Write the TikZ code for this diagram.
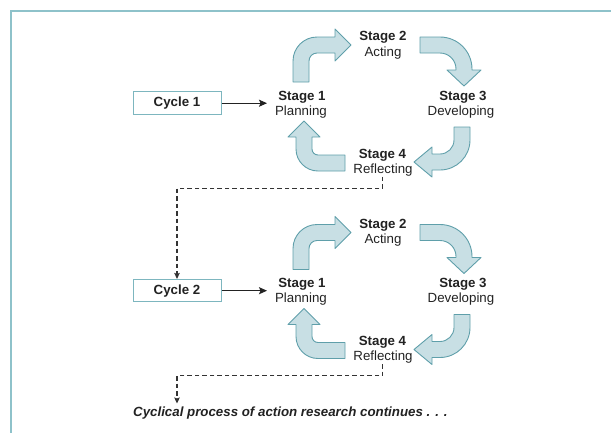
\documentclass[tikz,border=0pt]{standalone}
\usepackage{fontspec}
\setmainfont{Liberation Sans}
\usetikzlibrary{arrows.meta}
\definecolor{framecol}{HTML}{8EC2CA}
\definecolor{boxline}{HTML}{7DB6BF}
\definecolor{blockfill}{HTML}{C8DFE4}
\definecolor{blockline}{HTML}{5F9FAA}
\definecolor{ink}{HTML}{222222}
\definecolor{dashink}{HTML}{333333}
\tikzset{
  cyclebox/.style={draw=boxline, line width=1pt, fill=white, minimum width=88pt,
    minimum height=22.5pt, inner sep=0pt, text height=9.6pt, text depth=2.4pt,
    font=\fontsize{13.3}{16}\selectfont\bfseries, text=ink},
  stagehead/.style={anchor=base, inner sep=0pt, font=\fontsize{13.3}{16}\selectfont\bfseries, text=ink},
  stagename/.style={anchor=base, inner sep=0pt, font=\fontsize{13.3}{16}\selectfont, text=ink},
  block/.style={fill=blockfill, draw=blockline, line width=0.9pt, line join=round},
  solidcon/.style={draw=ink, line width=1pt, -{Stealth[length=8pt,width=7pt,inset=1.5pt]}},
  dashcon/.style={draw=dashink, line width=1.1pt, dash pattern=on 4.5pt off 3pt,
    -{Stealth[length=6pt,width=5.5pt,inset=1pt]}},
  pics/cycle/.style={code={
    % block arrows
    \draw[block] (293,-82) -- (293,-61) arc[start angle=180,end angle=90,radius=24pt]
      -- (335,-37) -- (335,-29) -- (351,-45) -- (335,-61) -- (335,-53) -- (317,-53)
      arc[start angle=90,end angle=180,radius=8pt] -- (309,-82) -- cycle;
    \draw[block] (420,-37) -- (440,-37) arc[start angle=90,end angle=0,radius=32pt]
      -- (472,-70) -- (481,-70) -- (464,-86) -- (447,-70) -- (456,-70) -- (456,-69)
      arc[start angle=0,end angle=90,radius=16pt] -- (420,-53) -- cycle;
    \draw[block] (454,-127) -- (470,-127) -- (470,-140) arc[start angle=0,end angle=-90,radius=30pt]
      -- (432,-170) -- (432,-177) -- (414,-162) -- (432,-147) -- (432,-154) -- (440,-154)
      arc[start angle=-90,end angle=0,radius=14pt] -- cycle;
    \draw[block] (345,-155) -- (345,-171) -- (318,-171) arc[start angle=270,end angle=180,radius=22pt]
      -- (296,-137) -- (288,-137) -- (304,-121) -- (320,-137) -- (312,-137) -- (312,-149)
      arc[start angle=180,end angle=270,radius=6pt] -- cycle;
    % stage labels
    \node[stagehead] (-s1h) at (302,-100) {Stage 1};
    \node[stagename] (-s1n) at (301,-115) {Planning};
    \node[stagehead] (-s2h) at (383,-40.7) {Stage 2};
    \node[stagename] (-s2n) at (383,-56) {Acting};
    \node[stagehead] (-s3h) at (463,-100) {Stage 3};
    \node[stagename] (-s3n) at (461,-115) {Developing};
    \node[stagehead] (-s4h) at (382.5,-158.3) {Stage 4};
    \node[stagename] (-s4n) at (383,-173.3) {Reflecting};
    % cycle box
    \node[cyclebox] (-box) at (177,-103.2) {Cycle #1};
    \coordinate (-in) at (267,-103.2);
    \draw[solidcon] (-box.east) -- (-in);
    \coordinate (-dash) at (382.5,-176.5);
  }}
}
\begin{document}
\begin{tikzpicture}[x=1pt,y=1pt]
\useasboundingbox (0,0) rectangle (611,-432);
\draw[framecol, line width=2pt] (11.3,-440) -- (11.3,-11) -- (620,-11);
\pic (c1) at (0,0) {cycle=1};
\pic (c2) at (0,-187.5) {cycle=2};
\coordinate (t1) at (177,-188.3);
\draw[dashcon] (c1-dash) |- (t1) -- (c2-box.north);
\coordinate (t2) at (177,-375.8);
\coordinate (endpt) at (177,-403.5);
\draw[dashcon] (c2-dash) |- (t2) -- (endpt);
\node[anchor=base west, inner sep=0pt, font=\fontsize{13.3}{16}\selectfont\bfseries\itshape, text=ink]
  (cont) at (133,-416.7) {Cyclical process of action research continues . . .};
\end{tikzpicture}
\end{document}
